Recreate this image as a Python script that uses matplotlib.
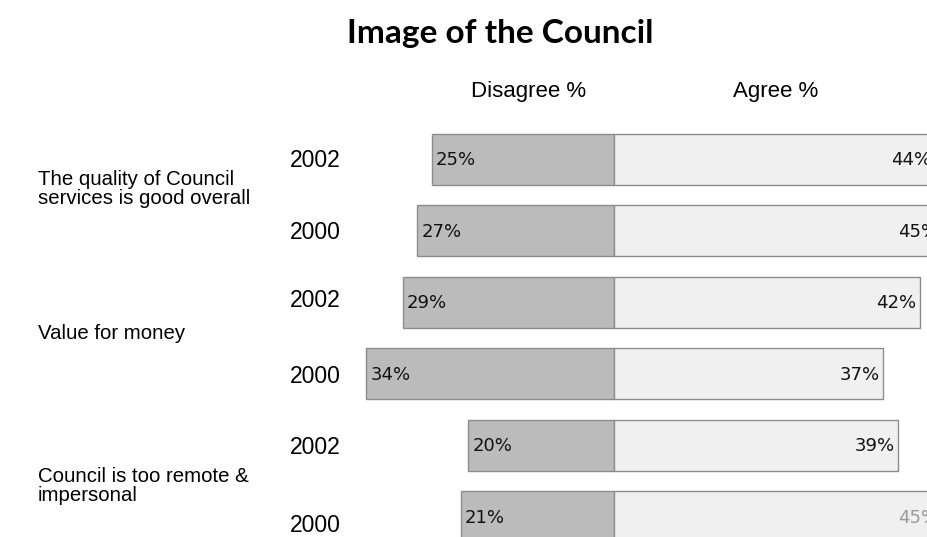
import matplotlib
matplotlib.use("Agg")
import matplotlib.pyplot as plt

# data
categories = ["The quality of Council\nservices is good overall",
              "Value for money",
              "Council is too remote &\nimpersonal"]
years = ["2002", "2000", "2002", "2000", "2002", "2000"]
disagree = [25, 27, 29, 34, 20, 21]
agree = [44, 45, 42, 37, 39, 45]

W, H = 928, 537
fig = plt.figure(figsize=(W / 100, H / 100), dpi=100)
ax = fig.add_axes([0, 0, 1, 1])

# pixel layout: zero line at x=614, 7.28 px per percent; bars every 71.5 px
px_per_pct = 7.28
x0 = 614
pitch = 71.5
y0 = 159.5
ax.set_xlim(-x0 / px_per_pct, (W - x0) / px_per_pct)
ax.set_ylim((H - y0) / pitch, -y0 / pitch)
ax.axis("off")


def px_x(p):
    return (p - x0) / px_per_pct


def px_y(p):
    return (p - y0) / pitch


rows = list(range(len(years)))
bar_h = 51 / pitch
edge = "#8c8c8c"
ax.barh(rows, [-d for d in disagree], height=bar_h, color="#bbbbbb",
        edgecolor=edge, linewidth=1)
ax.barh(rows, agree, height=bar_h, color="#f0f0f0",
        edgecolor=edge, linewidth=1)

# year labels sit a little off the bar centres in the original
year_y = [161, 233, 301, 377, 448, 525]
for i in rows:
    ax.text(-disagree[i] + 4 / px_per_pct, i + 0.01, f"{disagree[i]}%",
            ha="left", va="center", fontsize=13, color="#111111",
            family="DejaVu Sans")
    col = "#999999" if i == len(rows) - 1 else "#111111"
    ax.text(agree[i] - 3.5 / px_per_pct, i + 0.01, f"{agree[i]}%",
            ha="right", va="center", fontsize=13, color=col,
            family="DejaVu Sans")
    ax.text(px_x(290), px_y(year_y[i]), years[i], ha="left",
            va="center", fontsize=16.5, family="Liberation Sans")

cat_y = [189, 334, 486]
for k, cat in enumerate(categories):
    ax.text(px_x(38), px_y(cat_y[k]), cat, ha="left", va="center",
            fontsize=14.7, family="Liberation Sans", linespacing=1.05)

fig.text(500 / W, 1 - 33 / H, "Image of the Council", ha="center",
         va="center", fontsize=24, fontweight="bold", family="Lato")
fig.text(529 / W, 1 - 92 / H, "Disagree %", ha="center", va="center",
         fontsize=16, family="Liberation Sans")
fig.text(776 / W, 1 - 92 / H, "Agree %", ha="center", va="center",
         fontsize=16, family="Liberation Sans")

fig.savefig("out.png", dpi=100)
